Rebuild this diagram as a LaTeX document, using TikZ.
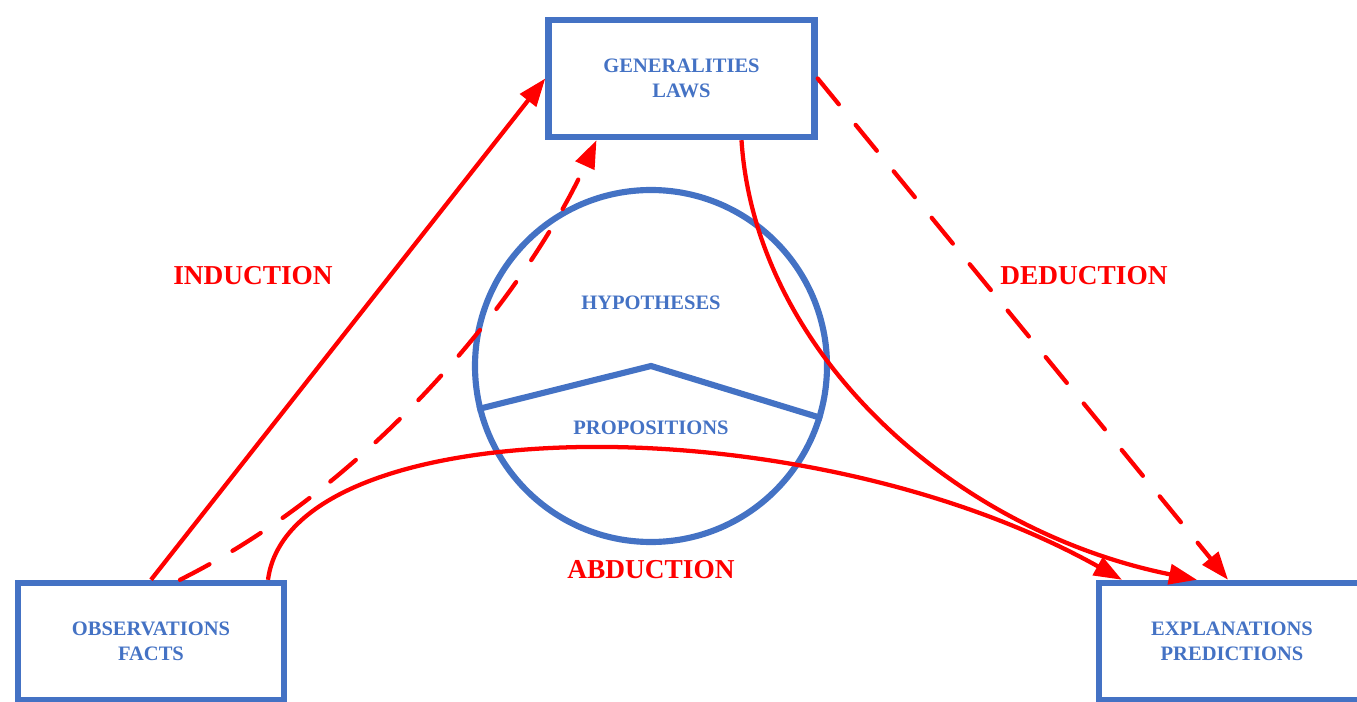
\documentclass[tikz,border=0pt]{standalone}
\usepackage{fontspec}
\setmainfont{Liberation Serif}
\usetikzlibrary{arrows.meta,calc}
\definecolor{boxblue}{HTML}{4472C4}
\definecolor{arrowred}{HTML}{FF0000}

\begin{document}
\begin{tikzpicture}[x=0.75pt,y=-0.75pt,>={Triangle[length=21pt,width=15pt]}]
    \tikzstyle{every node}=[font=\bfseries]
    \tikzstyle{box}=[rectangle,draw=boxblue,line width=4.8pt,minimum width=199.5pt,minimum height=87.75pt,
        align=center,text=boxblue,font=\bfseries\fontsize{15.4}{18.6}\selectfont]
    \tikzstyle{inner label}=[text=boxblue,font=\bfseries\fontsize{15.4}{18.6}\selectfont]
    \tikzstyle{method}=[text=arrowred,font=\bfseries\fontsize{20.5}{24}\selectfont]
    \tikzstyle{link}=[->,draw=arrowred,line width=3.2pt]
    \tikzstyle{dashed link}=[link,dash pattern=on 25pt off 20pt,line cap=round]

    \useasboundingbox (0,0) rectangle (1357,702);
    \clip (0,0) rectangle (1357,702);

    % Draw the three boxes
    \node[box] (G) at (681.5,78.5) {GENERALITIES\\LAWS};
    \node[box] (O) at (151,641.5) {OBSERVATIONS\\FACTS};
    \node[box] (E) at (1232,641.5) {EXPLANATIONS\\PREDICTIONS};

    % Draw the circle in the middle
    \node[circle,draw=boxblue,line width=4.6pt,minimum size=264pt,inner sep=0pt] (C) at (651,366) {};
    \draw[boxblue,line width=4.6pt] (C.194.7) -- (C.center) -- (C.343);
    \node[inner label] (hyp) at (651,303) {HYPOTHESES};
    \node[inner label] (prop) at (651,428) {PROPOSITIONS};

    % Connect the boxes
    \draw[link] (O.north) -- (G.west);
    \draw[dashed link] ($(O.north)+(29,0)$) .. controls (380,480) and (530,286) .. ($(G.south)+(-85,0)$);
    \draw[link] ($(O.north)+(117,0)$) .. controls (290,410) and (800,400) .. ($(E.north)+(-110,0)$);
    \draw[link] ($(G.south)+(60,0)$) .. controls (755,350) and (950,530) .. ($(E.north)+(-35,0)$);
    \draw[dashed link] (G.east) -- ($(E.north)+(-4,0)$);

    % Annotate the methods
    \node[method] (ind) at (253,276) {INDUCTION};
    \node[method] (ded) at (1084,276) {DEDUCTION};
    \node[method] (abd) at (651,570) {ABDUCTION};
\end{tikzpicture}
\end{document}
